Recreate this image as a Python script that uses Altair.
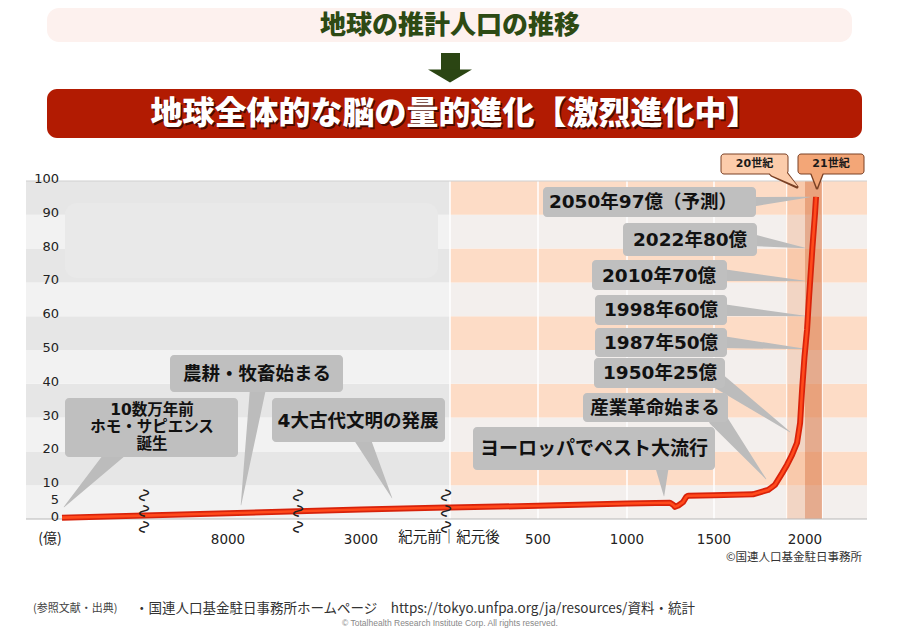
import altair as alt
import pandas as pd

# ---------------- data ----------------
years = [-100000, -12000, -8000, -4500, -3000, -200, 0, 500, 1000, 1247, 1265, 1276,
         1295, 1322, 1340, 1351, 1500, 1714, 1797, 1813, 1835, 1874, 1901, 1929,
         1956, 1973, 1984, 1997, 2012, 2024, 2044, 2059, 2065]
population = [0.4, 1.0, 1.7, 2.3, 2.8, 3.4, 3.4, 3.9, 4.6, 4.8, 4.2, 3.6,
              4.0, 5.0, 6.5, 6.9, 7.0, 7.3, 8.6, 9.2, 10.1, 13.5, 16.0, 19.0,
              22.5, 28.4, 38.2, 47.9, 56.0, 65.7, 80.5, 90.5, 95.3]

ytick_values = [0, 5, 10, 20, 30, 40, 50, 60, 70, 80, 90, 100]
xtick_years = [-8000, -3000, 500, 1000, 1500, 2000]
xtick_labels = ["8000", "3000", "500", "1000", "1500", "2000"]
break_years = [-12000, -4500, -200]
grid_years = [0, 500, 1000, 1500, 1900, 2100]
band_lows = list(range(0, 100, 10))
century_start = [1900, 2000]
century_end = [2000, 2100]
century_names = ["20世紀", "21世紀"]

callout_lines = [
    ["10数万年前", "ホモ・サピエンス", "誕生"],
    ["農耕・牧畜始まる"],
    ["4大古代文明の発展"],
    ["ヨーロッパでペスト大流行"],
    ["産業革命始まる"],
    ["1950年25億"],
    ["1987年50億"],
    ["1998年60億"],
    ["2010年70億"],
    ["2022年80億"],
    ["2050年97億（予測）"],
]

title_top = "地球の推計人口の推移"
title_main = "地球全体的な脳の量的進化【激烈進化中】"
unit_label = "(億)"
era_label = "紀元前｜紀元後"
credit_label = "©国連人口基金駐日事務所"
ref_head = "(参照文献・出典)"
ref_body = "・国連人口基金駐日事務所ホームページ　https://tokyo.unfpa.org/ja/resources/資料・統計"
copyright_text = "© Totalhealth Research Institute Corp. All rights reserved."

# ---------------- layout (page pixels) ----------------
OFF = 8


def P(v):
    return v - OFF


X_DOMAIN = [-200000, -100000, -12000, -8000, -4500, -3000, -200, 0, 500, 1000, 1500, 2000, 2100, 2400]
X_PIX = [26, 62, 144, 228, 298, 361, 446, 450, 538, 627, 714, 805, 822, 867]
xs = alt.Scale(domain=X_DOMAIN, range=[P(v) for v in X_PIX], zero=False, nice=False)
ys = alt.Scale(domain=[0, 100], range=[P(519), P(181)], zero=False, nice=False)

# box x0,x1,y0,y1 | text cx, cy, line step, size | pointer base x,y,width | tip x,y
callout_layout = [
    (65, 238, 398, 457, 152, 410, 17, 15.5, 118, 450, 18, 64, 507),
    (170, 343, 355, 392, 257, 374, 0, 18.5, 258, 388, 16, 241, 505),
    (272, 445, 398, 442, 358, 421, 0, 18.5, 362, 438, 16, 392, 498),
    (473, 715, 427, 470, 594, 449, 0, 19, 662, 466, 14, 664, 496),
    (583, 728, 393, 422, 655, 408, 0, 18.5, 717, 418, 18, 766, 479),
    (594, 725, 358, 388, 660, 373, 0, 18.5, 717, 380, 16, 790, 432),
    (595, 727, 328, 357, 661, 343, 0, 18.5, 722, 342, 12, 805, 349),
    (595, 727, 295, 325, 661, 310, 0, 18.5, 722, 310, 12, 805, 316),
    (592, 727, 260, 290, 659, 276, 0, 18.5, 722, 275, 12, 805, 281),
    (623, 757, 223, 256, 690, 240, 0, 18.5, 752, 240, 12, 805, 248),
    (543, 756, 187, 217, 643, 202, 0, 18.5, 750, 202, 10, 810, 197),
]

century_layout = [  # box x0,x1,y0,y1, fill, pointer base x,y,w, tip x,y
    (721, 788, 154, 174, "#fcccab", 776, 170, 14, 797, 186),
    (798, 864, 154, 174, "#f3a677", 817, 170, 14, 817, 187),
]

JP = "Noto Sans CJK JP"
NUMJP = "DejaVu Sans, Noto Sans CJK JP"
ONE = alt.Data(values=[{"a": 1}])


def rect(x0, x1, y0, y1, fill, radius=0, **kw):
    return alt.Chart(ONE).mark_rect(fill=fill, cornerRadius=radius, **kw).encode(
        x=alt.value(P(x0)), x2=alt.value(P(x1)), y=alt.value(P(y0)), y2=alt.value(P(y1)))


def label(txt, x, y, size, color="#222222", weight="normal", font=JP, align="center", baseline="middle", **kw):
    return alt.Chart(ONE).mark_text(text=txt, fontSize=size, color=color, fontWeight=weight, font=font,
                                    align=align, baseline=baseline, **kw).encode(
        x=alt.value(P(x)), y=alt.value(P(y)))


layers = []

# ---- header ----
layers.append(rect(47, 852, 8, 42, "#fdf1ee", radius=12))
layers.append(label(title_top, 450, 26, 26, color="#2d4a14", weight=900))
layers.append(rect(441, 460, 53, 71, "#2b4513"))
layers.append(alt.Chart(ONE).mark_point(shape="M-1,-0.3L1,-0.3L0,0.3Z", size=1936, filled=True,
                                        fill="#2b4513", opacity=1, strokeWidth=0).encode(
    x=alt.value(P(450)), y=alt.value(P(76))))
layers.append(rect(47, 862, 89, 138, "#b21b02", radius=10))
layers.append(label(title_main, 456, 115.5, 32, color="#4a0a00", weight=900))
layers.append(label(title_main, 454.5, 113.5, 32, color="#ffffff", weight=900))

# ---- background bands ----
band_rows = []
for side, x0, x1, dark, light in [("L", -200000, 0, "#e6e6e6", "#f2f2f2"),
                                   ("R", 0, 2400, "#fddcc6", "#f3efed")]:
    for lo in band_lows:
        band_rows.append({"x0": x0, "x1": x1, "lo": lo, "hi": lo + 10,
                          "fill": dark if (lo // 10) % 2 == 1 else light})
bands = pd.DataFrame(band_rows)
layers.append(alt.Chart(bands).mark_rect().encode(
    x=alt.X("x0:Q", scale=xs, axis=None), x2="x1:Q",
    y=alt.Y("lo:Q", scale=ys, axis=None), y2="hi:Q",
    fill=alt.Fill("fill:N", scale=None)))

layers.append(rect(65, 438, 203, 278, "#e9e9e9", radius=12))

grid = pd.DataFrame({"yr": grid_years, "lo": 0, "hi": 100})
layers.append(alt.Chart(grid).mark_rule(color="white", strokeWidth=1.5).encode(
    x=alt.X("yr:Q", scale=xs, axis=None), y=alt.Y("lo:Q", scale=ys, axis=None), y2="hi:Q"))

cent = pd.DataFrame({"s": century_start, "e": century_end, "lo": 0, "hi": 100,
                     "fill": ["#f2a678", "#d8733f"], "op": [0.35, 0.55]})
layers.append(alt.Chart(cent).mark_rect().encode(
    x=alt.X("s:Q", scale=xs, axis=None), x2="e:Q",
    y=alt.Y("lo:Q", scale=ys, axis=None), y2="hi:Q",
    fill=alt.Fill("fill:N", scale=None), opacity=alt.Opacity("op:Q", scale=None)))

edges = pd.DataFrame({"v": [0, 100], "x0": -200000, "x1": 2400, "c": ["#b8b8b8", "#d0d0d0"]})
layers.append(alt.Chart(edges).mark_rule(strokeWidth=1.2).encode(
    x=alt.X("x0:Q", scale=xs, axis=None), x2="x1:Q",
    y=alt.Y("v:Q", scale=ys, axis=None), color=alt.Color("c:N", scale=None)))

# ---- axis labels ----
yl = pd.DataFrame({"v": ytick_values, "t": [str(v) for v in ytick_values]})
layers.append(alt.Chart(yl).mark_text(align="right", baseline="middle", fontSize=13, font="DejaVu Sans",
                                      color="#222222", dy=-2).encode(
    x=alt.value(P(59)), y=alt.Y("v:Q", scale=ys, axis=None), text="t:N"))
xl = pd.DataFrame({"yr": xtick_years, "t": xtick_labels})
layers.append(alt.Chart(xl).mark_text(align="center", baseline="middle", fontSize=13.5, font="DejaVu Sans",
                                      color="#222222").encode(
    x=alt.X("yr:Q", scale=xs, axis=None), y=alt.value(P(540)), text="t:N"))
layers.append(label(unit_label, 50, 539, 14, font=JP))
layers.append(label(era_label, 449, 538, 14.5, font=JP))
layers.append(label(credit_label, 862, 558, 11.5, color="#333333", align="right"))

# ---- callout pointers ----
ptr_rows = []
for i, L in enumerate(callout_layout):
    ptr_rows.append({"pid": i, "o": 0, "x": P(L[8]), "y": P(L[9]), "w": L[10]})
    ptr_rows.append({"pid": i, "o": 1, "x": P(L[11]), "y": P(L[12]), "w": 0.5})
ptr = pd.DataFrame(ptr_rows)
layers.append(alt.Chart(ptr).mark_trail(color="#bcbcbc").encode(
    x=alt.X("x:Q", scale=None, axis=None), y=alt.Y("y:Q", scale=None, axis=None),
    size=alt.Size("w:Q", scale=None, legend=None), detail="pid:N", order="o:Q"))

box_rows = []
txt_rows = []
for i, L in enumerate(callout_layout):
    box_rows.append({"x0": P(L[0]), "x1": P(L[1]), "y0": P(L[2]), "y1": P(L[3])})
    for k, line in enumerate(callout_lines[i]):
        txt_rows.append({"x": P(L[4]), "y": P(L[5] + k * L[6]), "t": line, "s": L[7]})
boxes = pd.DataFrame(box_rows)
layers.append(alt.Chart(boxes).mark_rect(fill="#bfbfbf", cornerRadius=4).encode(
    x=alt.X("x0:Q", scale=None, axis=None), x2="x1:Q",
    y=alt.Y("y0:Q", scale=None, axis=None), y2="y1:Q"))
txts = pd.DataFrame(txt_rows)
layers.append(alt.Chart(txts).mark_text(font=NUMJP, fontWeight="bold", color="#111111",
                                        align="center", baseline="middle").encode(
    x=alt.X("x:Q", scale=None, axis=None), y=alt.Y("y:Q", scale=None, axis=None),
    text="t:N", size=alt.Size("s:Q", scale=None, legend=None)))

# ---- century tags ----
cp_rows = []
for i, C in enumerate(century_layout):
    cp_rows.append({"pid": i, "o": 0, "x": P(C[5]), "y": P(C[6]), "w": C[7]})
    cp_rows.append({"pid": i, "o": 1, "x": P(C[8]), "y": P(C[9]), "w": 0.5})
cp = pd.DataFrame(cp_rows)
cp_out = cp.copy()
cp_out["w"] = cp_out["w"] + 2.5
cp_out.loc[cp_out["o"] == 1, "y"] = cp_out.loc[cp_out["o"] == 1, "y"] + 1
layers.append(alt.Chart(cp_out).mark_trail(color="#7a4024").encode(
    x=alt.X("x:Q", scale=None, axis=None), y=alt.Y("y:Q", scale=None, axis=None),
    size=alt.Size("w:Q", scale=None, legend=None), detail="pid:N", order="o:Q"))
cb = pd.DataFrame([{"x0": P(C[0]), "x1": P(C[1]), "y0": P(C[2]), "y1": P(C[3]), "fill": C[4],
                    "t": century_names[i], "cx": P((C[0] + C[1]) / 2), "cy": P((C[2] + C[3]) / 2)}
                   for i, C in enumerate(century_layout)])
layers.append(alt.Chart(cb).mark_rect(cornerRadius=3, stroke="#7a4024", strokeWidth=1).encode(
    x=alt.X("x0:Q", scale=None, axis=None), x2="x1:Q",
    y=alt.Y("y0:Q", scale=None, axis=None), y2="y1:Q", fill=alt.Fill("fill:N", scale=None)))
cp_fill = cp.merge(cb[["fill"]].reset_index().rename(columns={"index": "pid"}), on="pid")
layers.append(alt.Chart(cp_fill).mark_trail().encode(
    x=alt.X("x:Q", scale=None, axis=None), y=alt.Y("y:Q", scale=None, axis=None),
    size=alt.Size("w:Q", scale=None, legend=None), detail="pid:N", order="o:Q",
    color=alt.Color("fill:N", scale=None)))
layers.append(alt.Chart(cb).mark_text(font=NUMJP, fontWeight="bold", fontSize=11, color="#1a1a1a").encode(
    x=alt.X("cx:Q", scale=None, axis=None), y=alt.Y("cy:Q", scale=None, axis=None), text="t:N"))

# ---- population line ----
pop = pd.DataFrame({"year": years, "pop": population})
layers.append(alt.Chart(pop).mark_line(color="#d8220a", strokeWidth=6, strokeCap="butt",
                                       strokeJoin="round").encode(
    x=alt.X("year:Q", scale=xs, axis=None), y=alt.Y("pop:Q", scale=ys, axis=None)))
layers.append(alt.Chart(pop).mark_line(color="#ff4a1c", strokeWidth=2.6, strokeCap="butt",
                                       strokeJoin="round").encode(
    x=alt.X("year:Q", scale=xs, axis=None), y=alt.Y("pop:Q", scale=ys, axis=None)))

# ---- axis break squiggles ----
br = pd.DataFrame({"yr": break_years, "t": "∿∿∿"})
layers.append(alt.Chart(br).mark_text(angle=90, fontSize=19, font="DejaVu Sans", color="#222222",
                                      align="center", baseline="middle").encode(
    x=alt.X("yr:Q", scale=xs, axis=None), y=alt.value(P(511)), text="t:N"))

# ---- footer ----
layers.append(label(ref_head, 33, 609, 11, color="#444444", align="left"))
layers.append(label(ref_body, 135, 609, 13.5, color="#333333", align="left"))
layers.append(label(copyright_text, 450, 623, 8.5, color="#888888", font="Liberation Sans"))

chart = alt.layer(*layers).resolve_scale(
    x="independent", y="independent", color="independent", size="independent",
    fill="independent", opacity="independent"
).properties(
    width=884, height=620, padding=0, background="white",
    autosize=alt.AutoSizeParams(type="none")
).configure_view(strokeWidth=0)

chart.save("out.html", embed_options={"renderer": "svg", "actions": False})
